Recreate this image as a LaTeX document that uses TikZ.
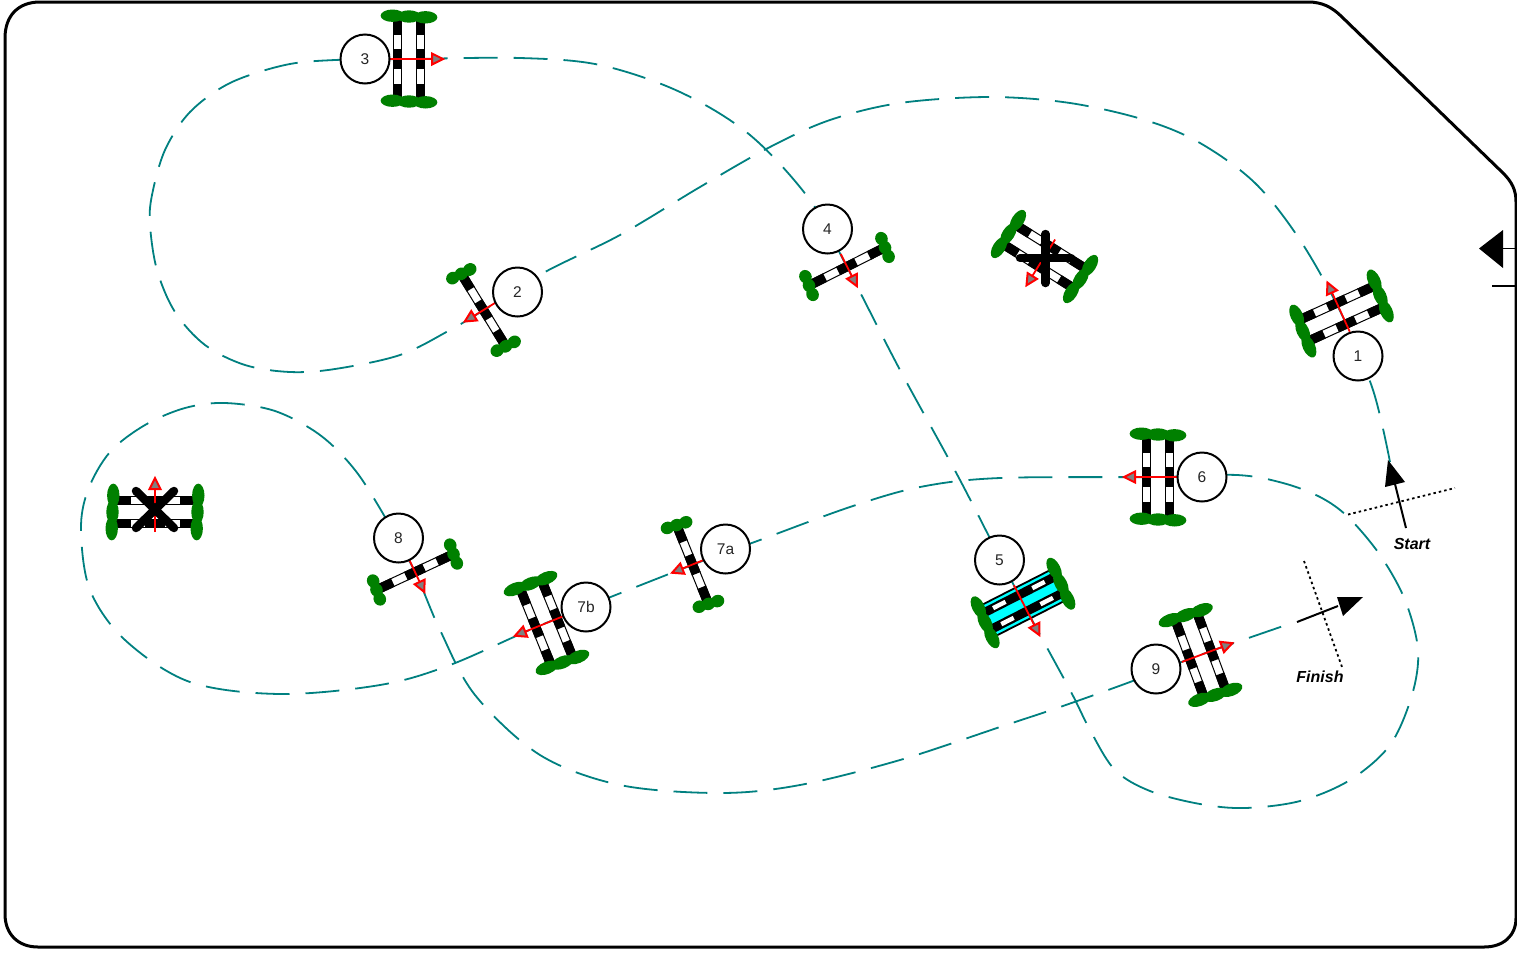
\documentclass[tikz,border=0pt]{standalone}
\usepackage{fontspec}
\setmainfont{Liberation Sans}
\definecolor{pathteal}{HTML}{008080}
\definecolor{bushgreen}{HTML}{008000}
\definecolor{wingcyan}{HTML}{00FFFF}
\definecolor{tipgrey}{HTML}{808080}
\tikzset{
  num/.style={circle,draw=black,line width=2pt,fill=white,minimum size=49pt,inner sep=0pt,font=\fontsize{15.5}{15.5}\selectfont,text=black!85},
  course/.style={pathteal,line width=1.8pt,dash pattern=on 34pt off 16pt,line join=round},
  bar/.style={black,line width=8.5pt,line cap=round},
  dots/.style={black,line width=1.8pt,dash pattern=on 2.5pt off 3pt},
  mark line/.style={black,line width=2pt},
  lab/.style={font=\fontsize{16}{16}\selectfont\bfseries\itshape},
  direction/.style={red,line width=1.8pt},
  direction tip/.style={draw=red,fill=tipgrey,line width=2pt,line join=miter}
}
% one rail along the local y axis at local x = #1
\newcommand{\railat}[1]{%
  \filldraw[fill=white,draw=black,line width=1pt] (#1-4.2,-39) rectangle (#1+4.2,39);
  \fill[black] (#1-4.7,-39.5) rectangle (#1+4.7,-24.5);
  \fill[black] (#1-4.7,-10) rectangle (#1+4.7,10);
  \fill[black] (#1-4.7,24.5) rectangle (#1+4.7,39.5);
}
% a row of bushes across the local x axis at local y = #1, half spread #2
\newcommand{\bushat}[2]{%
  \fill[bushgreen] (-#2,#1-0.8) ellipse [x radius=#2*0.72,y radius=6.2];
  \fill[bushgreen] (0,#1) ellipse [x radius=#2*0.72,y radius=6.2];
  \fill[bushgreen] (#2,#1+0.8) ellipse [x radius=#2*0.72,y radius=6.2];
}
\newcommand{\arrowdir}[2]{%
  \draw[direction] (-#1,0) -- (#2-8,0);
  \filldraw[direction tip] (#2,0) -- (#2-11,5.5) -- (#2-11,-5.5) -- cycle;
}
% \oxerjump{x}{y}{angle}
\newcommand{\oxerjump}[3]{%
  \begin{scope}[shift={(#1,#2)},rotate=#3]
    \railat{-11.5}\railat{11.5}
    \bushat{-42.5}{16.5}\bushat{42.5}{16.5}
    \arrowdir{20}{34}
  \end{scope}}
% \singlejump{x}{y}{angle}
\newcommand{\singlejump}[3]{%
  \begin{scope}[shift={(#1,#2)},rotate=#3]
    \railat{0}
    \bushat{-42.5}{9.5}\bushat{42.5}{9.5}
    \arrowdir{14}{22}
  \end{scope}}
% \waterjump{x}{y}{angle}
\newcommand{\waterjump}[3]{%
  \begin{scope}[shift={(#1,#2)},rotate=#3]
    \filldraw[fill=wingcyan,draw=black,line width=1.8pt] (-17,-39) rectangle (17,39);
    \foreach \r in {-9,9}{
      \fill[black] (\r-4.5,-39) rectangle (\r+4.5,39);
      \fill[white] (\r-2.2,-29) rectangle (\r+2.2,-15);
      \fill[white] (\r-2.2,15) rectangle (\r+2.2,29);
    }
    \bushat{-42.5}{16.5}\bushat{42.5}{16.5}
    \arrowdir{20}{36}
  \end{scope}}
\begin{document}
\begin{tikzpicture}[x=1pt,y=-1pt]
\useasboundingbox (0,0) rectangle (1517,954);
\fill[white] (0,0) rectangle (1517,954);
% arena outline
\draw[black,line width=3pt,line join=round]
  (40,2) -- (1308,2) .. controls (1322,2) and (1332,7) .. (1342,17)
  -- (1503,173) .. controls (1512,182) and (1516,190) .. (1516,202)
  -- (1516,918) .. controls (1516,936) and (1503,947) .. (1484,947)
  -- (38,947) .. controls (18,947) and (5,934) .. (5,914)
  -- (5,38) .. controls (5,16) and (18,2) .. (40,2) -- cycle;
% entry gate mark
\coordinate (gA) at (1503,248.5); \coordinate (gB) at (1517,248.5);
\coordinate (gC) at (1492,286); \coordinate (gD) at (1517,286);
\fill[black] (1479,248.5) -- (1503,230) -- (1503,268) -- cycle;
\draw[black,line width=1.2pt] (gA) -- (gB);
\draw[black,line width=1.8pt] (gC) -- (gD);
% course line
\draw[course] plot[smooth,tension=0.55] coordinates {
 (1390,462) (1373,390) (1341,313) (1300,240) (1255,183) (1200,143) (1145,120) (1070,103) (990,97)
 (900,103) (830,120) (770,147) (700,187) (620,235) (545,272) (484,310) (450,330)
 (400,355) (335,369) (290,372) (245,365) (205,345) (175,312) (157,270) (150,225)
 (152,195) (165,150) (190,112) (230,83) (285,65) (335,60) (409,59) (520,58) (600,65) (680,92) (750,135)
 (810,200) (847,267) (900,370) (960,480) (1023,603) (1070,690) (1090,730) (1115,770) (1150,791) (1200,804)
 (1245,808) (1300,801) (1350,780) (1390,745) (1412,695) (1418,650) (1405,600) (1380,555) (1348,517) (1320,497) (1283,483) (1237,475)
 (1158,477) (1000,478) (920,487) (850,507) (760,540) (692,565) (546,623) (450,665)
 (380,685) (280,694) (190,682) (125,640) (90,590) (81,530) (88,490) (110,452) (145,425) (185,408) (225,403)
 (275,411) (320,435) (355,470) (385,517) (415,572) (440,630) (475,695) (540,755) (620,785) (720,793)
 (800,785) (900,760) (1000,727) (1060,707) (1130,682) (1200,655) (1295,622)};
% jumps
\oxerjump{1341.5}{313.5}{114.4}
\singlejump{483.5}{310}{211.5}
\oxerjump{409}{59}{0}
\singlejump{847}{266.5}{-63.4}
\waterjump{1023}{603}{-63}
\oxerjump{1158}{477}{180}
\singlejump{692.5}{564.5}{202}
\oxerjump{546.5}{623}{202}
\singlejump{415}{572}{-65}
\oxerjump{1200.5}{655}{20.4}
\oxerjump{1044.5}{256.5}{238}
\oxerjump{155}{512}{90}
% crossed-out jumps
\coordinate (xa1) at (1045.5,234); \coordinate (xa2) at (1045.5,283);
\coordinate (xb1) at (1020,258); \coordinate (xb2) at (1071,258);
\coordinate (xc1) at (136,491); \coordinate (xc2) at (174,528);
\coordinate (xd1) at (136,528); \coordinate (xd2) at (174,491);
\draw[bar] (xa1) -- (xa2);
\draw[bar] (xb1) -- (xb2);
\draw[bar] (xc1) -- (xc2);
\draw[bar] (xd1) -- (xd2);
% numbers
\node[num] (n1) at (1358,356) {1};
\node[num] (n2) at (517.5,292) {2};
\node[num] (n3) at (365,59) {3};
\node[num] (n4) at (827.5,229) {4};
\node[num] (n5) at (999.5,560) {5};
\node[num] (n6) at (1202,477) {6};
\node[num] (n7a) at (725.5,549) {7a};
\node[num] (n7b) at (586,607) {7b};
\node[num] (n8) at (398.5,538) {8};
\node[num] (n9) at (1156,669) {9};
% start
\coordinate (sA) at (1406,528); \coordinate (sB) at (1395,484);
\coordinate (sC) at (1348,514.5); \coordinate (sD) at (1455,488);
\draw[dots] (sC) -- (sD);
\draw[mark line] (sA) -- (sB);
\fill[black] (1388,460) -- (1405,482) -- (1385,487) -- cycle;
\node[lab] (start) at (1412,544) {Start};
% finish
\coordinate (fA) at (1297,622); \coordinate (fB) at (1338,606);
\coordinate (fC) at (1304,561); \coordinate (fD) at (1342,667);
\draw[dots] (fC) -- (fD);
\draw[mark line] (fA) -- (fB);
\fill[black] (1363,597) -- (1337,597) -- (1343,616) -- cycle;
\node[lab] (finish) at (1320,677) {Finish};
\end{tikzpicture}
\end{document}
